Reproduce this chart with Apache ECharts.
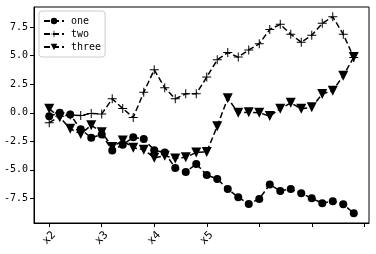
<!DOCTYPE html>
<html>
<head>
<meta charset="utf-8">
<script src="https://cdn.jsdelivr.net/npm/echarts@6/dist/echarts.min.js"></script>
<style>html,body{margin:0;padding:0;background:#fff;}#c{width:376px;height:254px;}</style>
</head>
<body>
<div id="c"></div>
<script>
var xIndex = [0,1,2,3,4,5,6,7,8,9,10,11,12,13,14,15,16,17,18,19,20,21,22,23,24,25,26,27,28,29];
var seriesNames = ['one', 'two', 'three'];
var one = [-0.3, 0.0, -0.15, -1.45, -2.18, -1.9, -3.3, -2.8, -2.15, -2.3, -3.28, -3.48, -4.85, -5.2, -4.48, -5.45, -5.8, -6.68, -7.4, -7.99, -7.55, -6.28, -6.85, -6.68, -7.05, -7.5, -7.92, -7.75, -8.02, -8.8];
var two = [-0.87, -0.3, -0.2, -0.24, -0.06, -0.1, 1.22, 0.37, -0.41, 1.8, 3.77, 2.2, 1.22, 1.66, 1.66, 3.13, 4.64, 5.28, 4.88, 5.51, 6.05, 7.3, 7.75, 6.88, 6.18, 6.8, 7.84, 8.41, 6.88, 4.84];
var three = [0.35, -0.4, -1.4, -1.85, -1.1, -1.7, -3.0, -2.42, -3.07, -3.23, -3.95, -3.77, -4.0, -3.9, -3.48, -3.43, -1.17, 1.28, 0.0, 0.05, 0.0, -0.29, 0.35, 0.87, 0.35, 0.49, 1.65, 1.94, 3.25, 4.88];
var xTicks = [0, 5, 10, 15, 20, 25, 30];
var xTickLabels = ['x2', 'x3', 'x4', 'x5'];
var yTicks = [-7.5, -5.0, -2.5, 0.0, 2.5, 5.0, 7.5];

function pairs(arr) { return arr.map(function (v, i) { return [xIndex[i], v]; }); }

var FONT = 'DejaVu Sans Mono';
var plusPath = 'path://M4.45,0 H5.55 V10 H4.45 Z M0,4.45 H10 V5.55 H0 Z';

var chart = echarts.init(document.getElementById('c'), null, {renderer: 'canvas'});
function mk(name, data, symbol, size, rot) {
  return {
    name: name, type: 'line', data: pairs(data),
    symbol: symbol, symbolSize: size, symbolRotate: rot || 0, showAllSymbol: true,
    lineStyle: {color: '#000', width: 1.5, type: [6, 3]},
    itemStyle: {color: '#000'},
    animation: false
  };
}
chart.setOption({
  animation: false,
  grid: {left: 34, right: 7, top: 7, bottom: 31, show: true, borderColor: '#000', borderWidth: 1, backgroundColor: 'transparent'},
  legend: {
    orient: 'vertical', left: 39, top: 11,
    data: seriesNames,
    itemWidth: 20, itemHeight: 8, itemGap: 3,
    padding: [5, 4, 5, 4],
    borderColor: '#ccc', borderWidth: 1, borderRadius: 3,
    backgroundColor: '#fff',
    textStyle: {fontFamily: FONT, fontSize: 10, color: '#000', padding: [0, 0, 0, 2]}
  },
  xAxis: {
    type: 'value', min: -1.45, max: 30.45,
    splitLine: {show: false},
    axisLine: {show: true, onZero: false, lineStyle: {color: '#000', width: 1}},
    axisTick: {show: true, length: 4, inside: false, lineStyle: {color: '#000'}, customValues: xTicks},
    axisLabel: {
      customValues: xTicks.slice(0, xTickLabels.length),
      formatter: function (v) { var k = xTicks.indexOf(v); return k >= 0 && k < xTickLabels.length ? xTickLabels[k] : ''; },
      rotate: 45, align: 'center', verticalAlign: 'middle', margin: 15,
      fontFamily: FONT, fontSize: 11, color: '#000'
    }
  },
  yAxis: {
    type: 'value', min: -9.66, max: 9.27,
    splitLine: {show: false},
    axisLine: {show: true, onZero: false, lineStyle: {color: '#000', width: 1}},
    axisTick: {show: true, length: 4, lineStyle: {color: '#000'}, customValues: yTicks},
    axisLabel: {
      customValues: yTicks,
      formatter: function (v) { return v.toFixed(1); },
      margin: 6, fontFamily: FONT, fontSize: 10, color: '#000'
    }
  },
  series: [
    mk('one', one, 'circle', 8),
    mk('two', two, plusPath, 9),
    mk('three', three, 'triangle', 10, 180)
  ]
});
</script>
</body>
</html>
